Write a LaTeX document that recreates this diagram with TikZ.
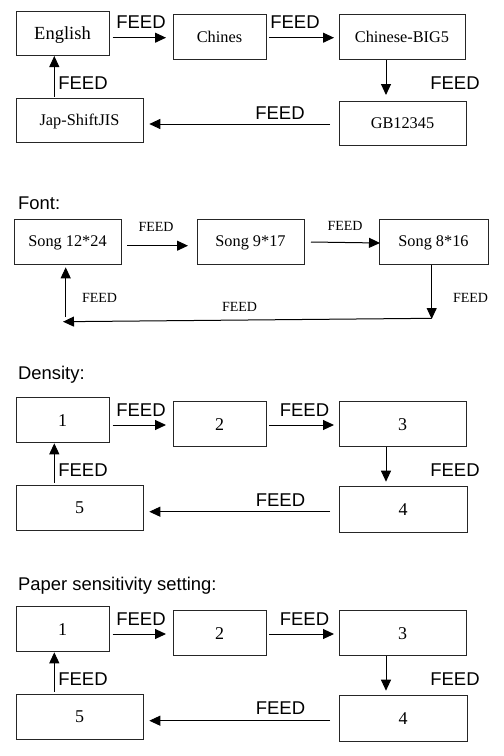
\documentclass[tikz,border=0pt]{standalone}
\usepackage{fontspec}
\setmainfont{Liberation Serif}
\newfontfamily\arialf{Liberation Sans}
\usetikzlibrary{arrows.meta}
\tikzset{
  box/.style={draw=black!85, line width=1pt, inner sep=0pt, outer sep=0pt, text depth=0pt, font=\fontsize{16.3}{18}\selectfont},
  numbox/.style={box, font=\fontsize{18}{20}\selectfont},
  arr/.style={line width=1pt, -{Triangle[length=11pt,width=10pt]}},
  feed/.style={inner sep=0pt, font=\arialf\fontsize{18.5}{20}\selectfont},
  sfeed/.style={inner sep=0pt, font=\fontsize{14}{16}\selectfont},
  ttl/.style={inner sep=0pt, anchor=base west, font=\arialf\fontsize{18.4}{20}\selectfont},
}
\begin{document}
\begin{tikzpicture}[x=1pt,y=-1pt]
\useasboundingbox (0,0) rectangle (504,756);
% ---------- Section 1 ----------
\node[box, minimum width=93pt, minimum height=44pt, font=\fontsize{18.5}{20}\selectfont] (en) at (62.5,33) {English};
\node[box, minimum width=93pt, minimum height=45pt] (ch) at (219.5,36.5) {Chines};
\node[box, minimum width=126pt, minimum height=45pt] (big) at (402,36.5) {Chinese-BIG5};
\node[box, minimum width=127pt, minimum height=44pt] (gb) at (402.5,123) {GB12345};
\node[box, minimum width=127pt, minimum height=44pt] (jap) at (79.5,120) {Jap-ShiftJIS};
\draw[arr] ([shift={(3.7,4.7)}]en.east) -- ([shift={(-7,1.2)}]ch.west);
\draw[arr] ([shift={(3,1.2)}]ch.east) -- ([shift={(-5,1.2)}]big.west);
\draw[arr] ([shift={(-16,1)}]big.south) -- ([shift={(-16.5,-6)}]gb.north);
\draw[arr] ([shift={(-9,1)}]gb.west) -- ([shift={(6.3,4)}]jap.east);
\draw[arr] ([shift={(-25.2,-1.3)}]jap.north) -- ([shift={(-8.2,1)}]en.south);
\node[feed] (f11) at (141,22) {FEED};
\node[feed] (f12) at (295,22) {FEED};
\node[feed] (f13) at (455,83) {FEED};
\node[feed] (f14) at (280,113) {FEED};
\node[feed] (f15) at (83,83) {FEED};
% ---------- Section 2 ----------
\node[ttl] (tfont) at (18,209.3) {Font:};
\node[box, minimum width=107pt, minimum height=45pt] (s1) at (67.5,241.5) {Song 12*24};
\node[box, minimum width=107pt, minimum height=45pt] (s2) at (250.5,241.5) {Song 9*17};
\node[box, minimum width=109pt, minimum height=45pt] (s3) at (433.5,241.5) {Song 8*16};
\coordinate (c1) at (431.7,319);
\coordinate (c2) at (63,321.7);
\coordinate (c3) at (65.7,317);
\draw[arr] ([shift={(6,4.2)}]s1.east) -- ([shift={(-9,4.2)}]s2.west);
\draw[arr] ([shift={(7,0.5)}]s2.east) -- ([shift={(1,1.5)}]s3.west);
\draw[arr] ([shift={(-1.8,0.7)}]s3.south) -- (c1);
\draw[arr] ([shift={(0,-0.7)}]c1) -- (c2);
\draw[arr] (c3) -- ([shift={(-1.8,3.3)}]s1.south);
\node[sfeed] (f21) at (156,227) {FEED};
\node[sfeed] (f22) at (345,226) {FEED};
\node[sfeed] (f23) at (99.5,298) {FEED};
\node[sfeed] (f24) at (239.5,306.5) {FEED};
\node[sfeed] (f25) at (470.5,298) {FEED};
% ---------- Section 3 ----------
\node[ttl] (tden) at (18,379) {Density:};
\node[numbox, minimum width=93pt, minimum height=45pt] (d1) at (62.5,420.2) {1};
\node[numbox, minimum width=93pt, minimum height=45pt] (d2) at (219.5,424.2) {2};
\node[numbox, minimum width=127pt, minimum height=45pt] (d3) at (402.5,424.2) {3};
\node[numbox, minimum width=128pt, minimum height=45.6pt] (d4) at (403,509.5) {4};
\node[numbox, minimum width=127pt, minimum height=45pt] (d5) at (79.5,507.5) {5};
\draw[arr] ([shift={(3.7,4.8)}]d1.east) -- ([shift={(-7,0.8)}]d2.west);
\draw[arr] ([shift={(3,0.8)}]d2.east) -- ([shift={(-5,0.8)}]d3.west);
\draw[arr] ([shift={(-16.5,0.6)}]d3.south) -- ([shift={(-17,-5)}]d4.north);
\draw[arr] ([shift={(-9,2.2)}]d4.west) -- ([shift={(6.3,4.2)}]d5.east);
\draw[arr] ([shift={(-25.2,-2.3)}]d5.north) -- ([shift={(-8.2,0.6)}]d1.south);
\node[feed] (f31) at (141,410) {FEED};
\node[feed] (f32) at (304.5,410) {FEED};
\node[feed] (f33) at (455,470) {FEED};
\node[feed] (f34) at (280.5,500) {FEED};
\node[feed] (f35) at (83,470) {FEED};
% ---------- Section 4 ----------
\node[ttl] (tpap) at (18,590) {Paper sensitivity setting:};
\node[numbox, minimum width=93pt, minimum height=45pt] (p1) at (62.5,629.2) {1};
\node[numbox, minimum width=93pt, minimum height=45pt] (p2) at (219.5,633.2) {2};
\node[numbox, minimum width=127pt, minimum height=45pt] (p3) at (402.5,633.2) {3};
\node[numbox, minimum width=128pt, minimum height=45.6pt] (p4) at (403,718.5) {4};
\node[numbox, minimum width=127pt, minimum height=45pt] (p5) at (79.5,716.5) {5};
\draw[arr] ([shift={(3.7,4.8)}]p1.east) -- ([shift={(-7,0.8)}]p2.west);
\draw[arr] ([shift={(3,0.8)}]p2.east) -- ([shift={(-5,0.8)}]p3.west);
\draw[arr] ([shift={(-16.5,0.6)}]p3.south) -- ([shift={(-17,-5)}]p4.north);
\draw[arr] ([shift={(-9,2.2)}]p4.west) -- ([shift={(6.3,4.2)}]p5.east);
\draw[arr] ([shift={(-25.2,-2.3)}]p5.north) -- ([shift={(-8.2,0.6)}]p1.south);
\node[feed] (f41) at (141,619) {FEED};
\node[feed] (f42) at (304.5,619) {FEED};
\node[feed] (f43) at (455,679) {FEED};
\node[feed] (f44) at (280.5,708) {FEED};
\node[feed] (f45) at (83,679) {FEED};
\end{tikzpicture}
\end{document}
